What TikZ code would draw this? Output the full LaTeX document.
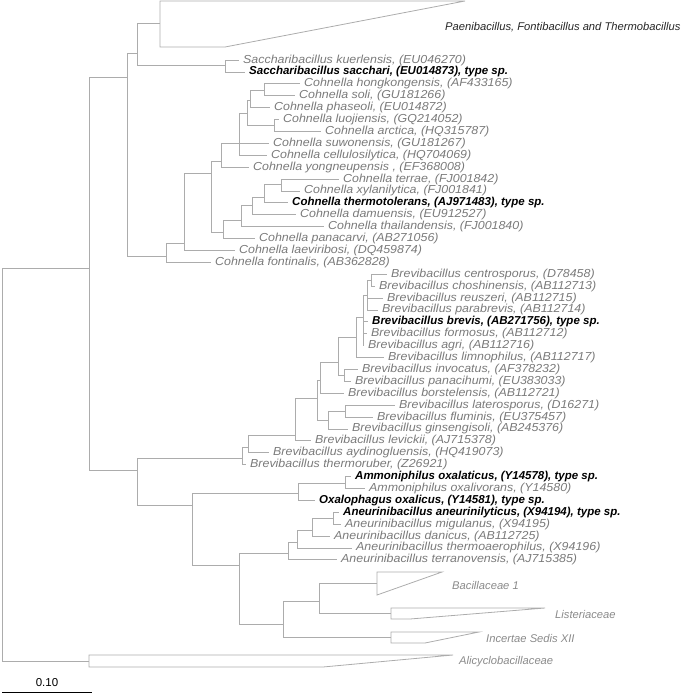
\documentclass[tikz,border=0pt]{standalone}
\usepackage{fontspec}
\setmainfont{Liberation Sans}
\newfontfamily\spfont{Liberation Sans}[FakeStretch=1.07]
\usepackage{xcolor}
\usetikzlibrary{calc}
\definecolor{linegray}{RGB}{172,172,172}
\definecolor{labelgray}{RGB}{122,122,122}
\definecolor{cladegray}{RGB}{138,138,138}

\begin{document}
\begin{tikzpicture}[
          x=1pt, y=-1pt,
          br/.style={draw=linegray, line width=0.8pt},
          sp/.style={anchor=west, inner xsep=4pt, inner ysep=0pt, text height=8.3pt, text depth=2.2pt,
                     font=\spfont\fontsize{11.6}{12}\selectfont\itshape, text=labelgray},
          tsp/.style={sp, text=black, font=\fontsize{11.5}{12}\selectfont\bfseries\itshape},
          grp/.style={anchor=west, inner sep=0pt, font=\fontsize{11.2}{12}\selectfont\itshape, text=cladegray}
        ]
  \useasboundingbox (0,0) rectangle (685,694);

  % internal nodes
  \coordinate (root) at (2,464);
  \coordinate (n1) at (89,268);
  \coordinate (nA) at (127,77);
  \coordinate (nA1) at (137,53);
  \coordinate (nS) at (225,65);
  \coordinate (nC0) at (166,256);
  \coordinate (nC1) at (184,243);
  \coordinate (nC7) at (211,173);
  \coordinate (nC6) at (221,161);
  \coordinate (nC5) at (239,143);
  \coordinate (nC4) at (247,113);
  \coordinate (nC3) at (250,100);
  \coordinate (nC1a) at (264,90);
  \coordinate (nC2) at (274,125);
  \coordinate (nCp) at (223,232);
  \coordinate (nCt) at (241,220);
  \coordinate (nCd) at (252,205);
  \coordinate (nCx) at (264,197);
  \coordinate (nCy) at (281,184);
  \coordinate (nB) at (137,470);
  \coordinate (nBr0) at (242,458);
  \coordinate (nBr1) at (248,447);
  \coordinate (nBr2) at (295,435);
  \coordinate (nBr3) at (317,398);
  \coordinate (nB6) at (320,380);
  \coordinate (nB5) at (338,362);
  \coordinate (nB4) at (356,337);
  \coordinate (nB3) at (363,317);
  \coordinate (nB2) at (367,295);
  \coordinate (nB1) at (371,280);
  \coordinate (nBip) at (344,375);
  \coordinate (nBlat) at (328,420);
  \coordinate (nBlf) at (345,411);
  \coordinate (nO) at (192,505);
  \coordinate (nOx) at (298,493);
  \coordinate (nAm) at (345,483);
  \coordinate (nAn) at (239,565);
  \coordinate (nAn1) at (288,553);
  \coordinate (nAn2) at (297,542);
  \coordinate (nAn3) at (312,530);
  \coordinate (nAn4) at (333,518);
  \coordinate (nFam) at (283,624);
  \coordinate (nFam1) at (319,601);

  % collapsed groups
  \coordinate (paen) at (160,23);
  \coordinate (bac) at (377,583);
  \coordinate (lis) at (391,613);
  \coordinate (inc) at (391,637);
  \coordinate (ali) at (89,661);
  \draw[br] (160,1) -- (465,1) -- (225,47) -- (160,47) -- cycle;
  \draw[br] (377,572) -- (442,572) -- (377,595) -- cycle;
  \draw[br] (391,608) -- (545,608) -- (410,619) -- (391,619) -- cycle;
  \draw[br] (391,632) -- (479,632) -- (425,643) -- (391,643) -- cycle;
  \draw[br] (89,655) -- (453,655) -- (323,667) -- (89,667) -- cycle;
  \node[grp, text=black!85] (paenlbl) at (445,27) {Paenibacillus, Fontibacillus and Thermobacillus};
  \node[grp] (baclbl) at (452,585) {Bacillaceae 1};
  \node[grp] (lislbl) at (555,614) {Listeriaceae};
  \node[grp] (inclbl) at (486,638) {Incertae Sedis XII};
  \node[grp] (alilbl) at (459,662) {Alicyclobacillaceae};

  % species
  \node[sp] (kue) at (239,60.0) {Saccharibacillus kuerlensis, (EU046270)};
  \node[tsp] (sac) at (245,71.9) {Saccharibacillus sacchari, (EU014873), type sp.};
  \node[sp] (hon) at (300,83.8) {Cohnella hongkongensis, (AF433165)};
  \node[sp] (sol) at (295,95.7) {Cohnella soli, (GU181266)};
  \node[sp] (pha) at (270,107.6) {Cohnella phaseoli, (EU014872)};
  \node[sp] (luo) at (279,119.5) {Cohnella luojiensis, (GQ214052)};
  \node[sp] (arc) at (321,131.4) {Cohnella arctica, (HQ315787)};
  \node[sp] (suw) at (269,143.3) {Cohnella suwonensis, (GU181267)};
  \node[sp] (cel) at (267,155.2) {Cohnella cellulosilytica, (HQ704069)};
  \node[sp] (yon) at (249,167.1) {Cohnella yongneupensis , (EF368008)};
  \node[sp] (ter) at (339,179.0) {Cohnella terrae, (FJ001842)};
  \node[sp] (xyl) at (300,190.9) {Cohnella xylanilytica, (FJ001841)};
  \node[tsp] (the) at (288,202.8) {Cohnella thermotolerans, (AJ971483), type sp.};
  \node[sp] (dam) at (296,214.7) {Cohnella damuensis, (EU912527)};
  \node[sp] (tha) at (324,226.6) {Cohnella thailandensis, (FJ001840)};
  \node[sp] (pan) at (255,238.5) {Cohnella panacarvi, (AB271056)};
  \node[sp] (lae) at (235,250.4) {Cohnella laeviribosi, (DQ459874)};
  \node[sp] (fon) at (211,262.3) {Cohnella fontinalis, (AB362828)};
  \node[sp] (cen) at (387,274.2) {Brevibacillus centrosporus, (D78458)};
  \node[sp] (cho) at (375,286.1) {Brevibacillus choshinensis, (AB112713)};
  \node[sp] (reu) at (383,298.0) {Brevibacillus reuszeri, (AB112715)};
  \node[sp] (par) at (378,309.9) {Brevibacillus parabrevis, (AB112714)};
  \node[tsp] (bre) at (368,321.8) {Brevibacillus brevis, (AB271756), type sp.};
  \node[sp] (for) at (367,333.7) {Brevibacillus formosus, (AB112712)};
  \node[sp] (agr) at (364,345.6) {Brevibacillus agri, (AB112716)};
  \node[sp] (lim) at (384,357.5) {Brevibacillus limnophilus, (AB112717)};
  \node[sp] (inv) at (358,369.4) {Brevibacillus invocatus, (AF378232)};
  \node[sp] (pnh) at (351,381.3) {Brevibacillus panacihumi, (EU383033)};
  \node[sp] (bor) at (344,393.2) {Brevibacillus borstelensis, (AB112721)};
  \node[sp] (lat) at (395,405.1) {Brevibacillus laterosporus, (D16271)};
  \node[sp] (flu) at (373,417.0) {Brevibacillus fluminis, (EU375457)};
  \node[sp] (gin) at (348,428.9) {Brevibacillus ginsengisoli, (AB245376)};
  \node[sp] (lev) at (311,440.8) {Brevibacillus levickii, (AJ715378)};
  \node[sp] (ayd) at (269,452.7) {Brevibacillus aydinogluensis, (HQ419073)};
  \node[sp] (thr) at (246,464.6) {Brevibacillus thermoruber, (Z26921)};
  \node[tsp] (oxa) at (351,476.5) {Ammoniphilus oxalaticus, (Y14578), type sp.};
  \node[sp] (oxv) at (365,488.4) {Ammoniphilus oxalivorans, (Y14580)};
  \node[tsp] (oxp) at (315,500.3) {Oxalophagus oxalicus, (Y14581), type sp.};
  \node[tsp] (ane) at (339,512.2) {Aneurinibacillus aneurinilyticus, (X94194), type sp.};
  \node[sp] (mig) at (341,524.1) {Aneurinibacillus migulanus, (X94195)};
  \node[sp] (dan) at (330,536.0) {Aneurinibacillus danicus, (AB112725)};
  \node[sp] (tae) at (352,547.9) {Aneurinibacillus thermoaerophilus, (X94196)};
  \node[sp] (trn) at (337,559.8) {Aneurinibacillus terranovensis, (AJ715385)};

  % branches
  \draw[br] (root) |- (n1) (root) |- (ali);
  \draw[br] (n1) |- (nA) (n1) |- (nB);
  \draw[br] (nA) |- (nA1) (nA) |- (nC0);
  \draw[br] (nA1) |- (paen) (nA1) |- (nS);
  \draw[br] (nS) |- (kue.west) (nS) |- (sac.west);
  \draw[br] (nC0) |- (nC1) (nC0) |- (fon.west);
  \draw[br] (nC1) |- (nC7) (nC1) |- (lae.west);
  \draw[br] (nC7) |- (nC6) (nC7) |- (nCp);
  \draw[br] (nC6) |- (nC5) (nC6) |- (yon.west);
  \draw[br] (nC5) |- (nC4) (nC5) |- (suw.west) (nC5) |- (cel.west);
  \draw[br] (nC4) |- (nC3) (nC4) |- (nC2);
  \draw[br] (nC3) |- (nC1a) (nC3) |- (pha.west);
  \draw[br] (nC1a) |- (hon.west) (nC1a) |- (sol.west);
  \draw[br] (nC2) |- (luo.west) (nC2) |- (arc.west);
  \draw[br] (nCp) |- (nCt) (nCp) |- (pan.west);
  \draw[br] (nCt) |- (nCd) (nCt) |- (tha.west);
  \draw[br] (nCd) |- (nCx) (nCd) |- (dam.west);
  \draw[br] (nCx) |- (nCy) (nCx) |- (the.west);
  \draw[br] (nCy) |- (ter.west) (nCy) |- (xyl.west);
  \draw[br] (nB) |- (nBr0) (nB) |- (nO);
  \draw[br] (nBr0) |- (nBr1) (nBr0) |- (thr.west);
  \draw[br] (nBr1) |- (nBr2) (nBr1) |- (ayd.west);
  \draw[br] (nBr2) |- (nBr3) (nBr2) |- (lev.west);
  \draw[br] (nBr3) |- (nB6) (nBr3) |- (nBlat);
  \draw[br] (nB6) |- (nB5) (nB6) |- (bor.west);
  \draw[br] (nB5) |- (nB4) (nB5) |- (nBip);
  \draw[br] (nB4) |- (nB3) (nB4) |- (lim.west);
  \draw[br] (nB3) |- (nB2) (nB3) |- (bre.west) (nB3) |- (for.west) (nB3) |- (agr.west);
  \draw[br] (nB2) |- (nB1) (nB2) |- (reu.west) (nB2) |- (par.west);
  \draw[br] (nB1) |- (cen.west) (nB1) |- (cho.west);
  \draw[br] (nBip) |- (inv.west) (nBip) |- (pnh.west);
  \draw[br] (nBlat) |- (nBlf) (nBlat) |- (gin.west);
  \draw[br] (nBlf) |- (lat.west) (nBlf) |- (flu.west);
  \draw[br] (nO) |- (nOx) (nO) |- (nAn);
  \draw[br] (nOx) |- (nAm) (nOx) |- (oxp.west);
  \draw[br] (nAm) |- (oxa.west) (nAm) |- (oxv.west);
  \draw[br] (nAn) |- (nAn1) (nAn) |- (nFam);
  \draw[br] (nAn1) |- (nAn2) (nAn1) |- (trn.west);
  \draw[br] (nAn2) |- (nAn3) (nAn2) |- (tae.west);
  \draw[br] (nAn3) |- (nAn4) (nAn3) |- (dan.west);
  \draw[br] (nAn4) |- (ane.west) (nAn4) |- (mig.west);
  \draw[br] (nFam) |- (nFam1) (nFam) |- (inc);
  \draw[br] (nFam1) |- (bac) (nFam1) |- (lis);

  % scale bar
  \coordinate (bar0) at (2,692.5);
  \coordinate (bar1) at (92,692.5);
  \draw[black, line width=0.8pt] (bar0) -- (bar1);
  \node[inner sep=0pt, font=\fontsize{11.5}{12}\selectfont, text height=8.3pt, text depth=0pt] (barlbl) at ($(bar0)!0.5!(bar1)+(0,-10)$) {0.10};
\end{tikzpicture}
\end{document}
